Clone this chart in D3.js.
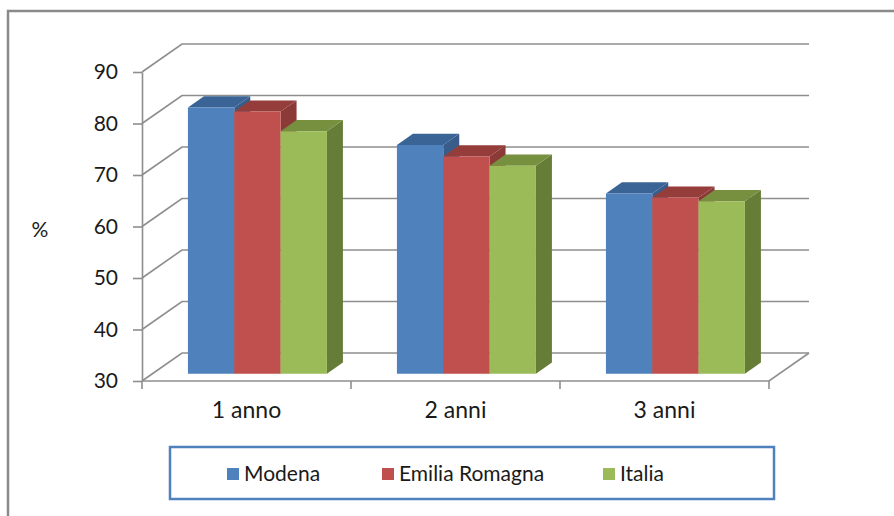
<!DOCTYPE html>
<html>
<head>
<meta charset="utf-8">
<script src="https://cdn.jsdelivr.net/npm/d3@7"></script>
<style>
  body { margin: 0; background: #fff; }
  svg text { font-family: Lato, "Open Sans", sans-serif; fill: #1a1a1a; }
</style>
</head>
<body>
<svg id="chart" width="894" height="516"></svg>
<script>
var categories = ['1 anno', '2 anni', '3 anni']
var seriesNames = ['Modena', 'Emilia Romagna', 'Italia']
var modena = [81.7, 74.4, 65.0]
var emilia = [80.9, 72.2, 64.2]
var italia = [77.1, 70.4, 63.5]
var yTicks = [30, 40, 50, 60, 70, 80, 90]

var values = [modena, emilia, italia]
var colors = [
    { front: '#4f81bd', top: '#3b6496', side: '#385d8a' },
    { front: '#c0504d', top: '#953d3a', side: '#8c3a37' },
    { front: '#9bbb59', top: '#76903f', side: '#667d37' }
]

var svg = d3.select('#chart')
var grid = '#8e8e8e'

// outer frame (right / bottom edges run past the picture)
svg.append('rect')
    .attr('x', 8).attr('y', 11)
    .attr('width', 900).attr('height', 520)
    .attr('fill', 'none').attr('stroke', '#8a8a8a').attr('stroke-width', 2.5)

var DX = 40, DY = 28   // depth offset of the back wall
var x0 = d3.scaleBand().domain(categories).range([142, 769])
var x1 = d3.scaleBand().domain(seriesNames)
    .range([x0.bandwidth() * 0.17, x0.bandwidth() * 0.835])
var y = d3.scaleLinear().domain([30, 90]).range([381, 72])

function P(x, v, t) {
    return [x + DX * t, y(v) - DY * t]
}
var line = d3.line()

// back wall gridlines + side wall diagonals
yTicks.forEach(function (v) {
    svg.append('path')
        .attr('d', line([P(142, v, 0), P(142, v, 1), P(769, v, 1)]))
        .attr('fill', 'none').attr('stroke', grid).attr('stroke-width', 1.6)
})
// floor front and right edges
svg.append('path')
    .attr('d', line([P(142, 30, 0), P(769, 30, 0), P(769, 30, 1)]))
    .attr('fill', 'none').attr('stroke', grid).attr('stroke-width', 1.6)

// x boundary ticks
var bounds = categories.map(function (c) { return x0(c) }).concat([769])
bounds.forEach(function (bx) {
    svg.append('line')
        .attr('x1', bx).attr('x2', bx).attr('y1', 381).attr('y2', 389)
        .attr('stroke', grid).attr('stroke-width', 1.6)
})

// y axis
var yAxis = d3.axisLeft(y).tickValues(yTicks).tickSize(9).tickSizeOuter(0).tickPadding(15)
var gy = svg.append('g').attr('transform', 'translate(142,0)').call(yAxis)
gy.select('.domain').attr('stroke', grid).attr('stroke-width', 1.6)
gy.selectAll('.tick line').attr('stroke', grid).attr('stroke-width', 1.6)
gy.selectAll('.tick text').style('font-size', '21px').attr('fill', '#1a1a1a')

// x axis labels
var xAxis = d3.axisBottom(x0).tickSize(0).tickPadding(21)
var gx = svg.append('g').attr('transform', 'translate(0,381)').call(xAxis)
gx.select('.domain').remove()
gx.selectAll('.tick text').style('font-size', '23px').attr('fill', '#1a1a1a')

svg.append('text').attr('x', 40).attr('y', 237)
    .attr('text-anchor', 'middle').style('font-size', '21px').text('%')

// bars
var t0 = 0.26, t1 = 0.66
categories.forEach(function (c, ci) {
    seriesNames.forEach(function (s, si) {
        var v = values[si][ci]
        var xl = x0(c) + x1(s), xr = xl + x1.bandwidth()
        var col = colors[si]
        svg.append('path')
            .attr('d', line([P(xr, 30, t0), P(xr, 30, t1), P(xr, v, t1), P(xr, v, t0)]) + 'Z')
            .attr('fill', col.side)
        svg.append('path')
            .attr('d', line([P(xl, v, t0), P(xr, v, t0), P(xr, v, t1), P(xl, v, t1)]) + 'Z')
            .attr('fill', col.top)
        svg.append('path')
            .attr('d', line([P(xl, 30, t0), P(xr, 30, t0), P(xr, v, t0), P(xl, v, t0)]) + 'Z')
            .attr('fill', col.front)
    })
})

// legend
svg.append('rect')
    .attr('x', 170).attr('y', 447).attr('width', 604).attr('height', 52)
    .attr('fill', 'none').attr('stroke', '#4f81bd').attr('stroke-width', 2.5)
var legendX = [227, 382, 603]
seriesNames.forEach(function (s, i) {
    svg.append('rect')
        .attr('x', legendX[i]).attr('y', 468).attr('width', 12).attr('height', 12)
        .attr('fill', colors[i].front)
    svg.append('text')
        .attr('x', legendX[i] + 17).attr('y', 481)
        .style('font-size', '21px').text(s)
})
</script>
</body>
</html>
